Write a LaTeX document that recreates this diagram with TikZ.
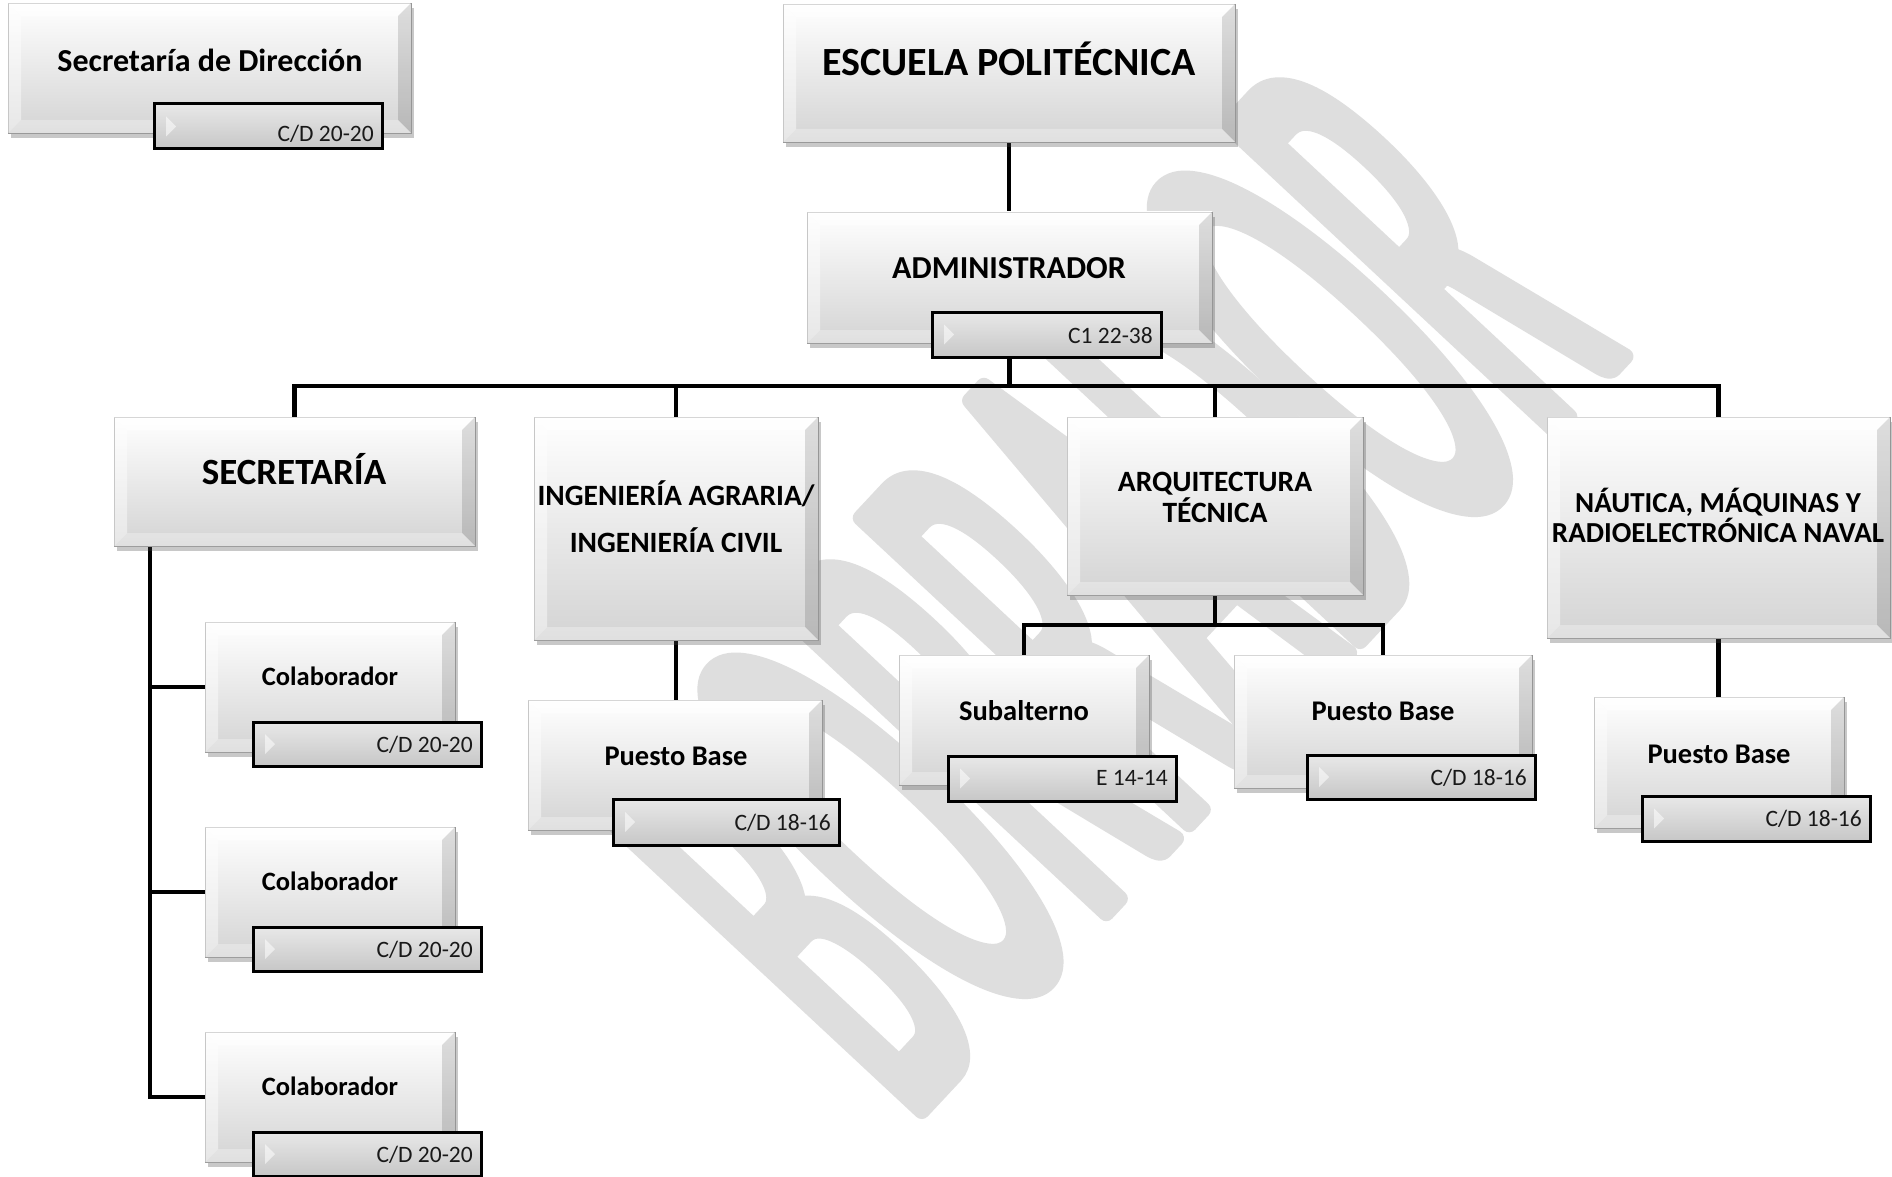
\documentclass[tikz,border=0pt]{standalone}
\usepackage{fontspec}
\setmainfont{Carlito}
\newfontfamily\wmfont{Carlito}[FakeStretch=0.32]
\usetikzlibrary{shadows}
\pgfdeclarelayer{wmark}
\pgfdeclarelayer{links}
\pgfsetlayers{wmark,links,main}
\newcommand\fsz[1]{\fontsize{#1}{#1}\selectfont}
\tikzset{
  obox/.style={rectangle, inner sep=0pt, outer sep=0pt, draw=black!40, line width=0.8pt,
    top color=white, bottom color=black!17,
    drop shadow={shadow xshift=3pt, shadow yshift=-5pt, opacity=0.3, fill=black!70}},
  cdbox/.style={rectangle, inner sep=0pt, outer sep=0pt, draw=black, line width=3pt,
    top color=black!9, bottom color=black!22},
  conn/.style={line width=4.5pt, black},
  ttl/.style={inner sep=0pt, anchor=base, text=black},
  cdtxt/.style={inner sep=0pt, anchor=base east, font=\fsz{23.5}, text=black!90},
}
% box: name, x1, y1, x2, y2
\newcommand\orgbox[5]{%
  \node[obox, minimum width={(#4)-(#2)}, minimum height={(#5)-(#3)}] (#1)
    at ({((#2)+(#4))/2},{((#3)+(#5))/2}) {};}
% bevel faces of a box
\newcommand\bevel[1]{%
  \fill[white,opacity=.6] (#1.north west) -- (#1.north east) -- ([xshift=-13pt,yshift=-13pt]#1.north east) -- ([xshift=13pt,yshift=-13pt]#1.north west) -- cycle;
  \fill[white,opacity=.45] (#1.north west) -- ([xshift=13pt,yshift=-13pt]#1.north west) -- ([xshift=13pt,yshift=13pt]#1.south west) -- (#1.south west) -- cycle;
  \fill[black,opacity=.13] (#1.north east) -- (#1.south east) -- ([xshift=-13pt,yshift=13pt]#1.south east) -- ([xshift=-13pt,yshift=-13pt]#1.north east) -- cycle;
  \fill[white,opacity=.3] (#1.south west) -- ([xshift=13pt,yshift=13pt]#1.south west) -- ([xshift=-13pt,yshift=13pt]#1.south east) -- (#1.south east) -- cycle;}
% grade label: name, x1, y1, x2, y2, baseline, text
\newcommand\cdlabel[7]{%
  \node[cdbox, minimum width={(#4)-(#2)}, minimum height={(#5)-(#3)}] (#1)
    at ({((#2)+(#4))/2},{((#3)+(#5))/2}) {};
  \fill[white,opacity=.55] ([xshift=12pt,yshift=10pt]#1.west) -- ([xshift=22pt]#1.west) -- ([xshift=12pt,yshift=-10pt]#1.west) -- cycle;
  \node[cdtxt] (#1-t) at ({(#4)-8},{#6}) {#7};}

\begin{document}
\begin{tikzpicture}[x=1pt,y=-1pt]
\useasboundingbox (0,0) rectangle (1892,1177);
\begin{pgfonlayer}{wmark}
  \fill[white] (0,0) rectangle (1892,1177);
  \node[rotate=47, inner sep=0pt] (wm) at (1105,585)
    {\wmfont\fsz{700}\special{pdf:literal direct q 2 Tr 16 w 1 j 0.87 G 0.87 g}BORRADOR\special{pdf:literal direct Q}};
\end{pgfonlayer}

% boxes
\orgbox{sd}{8}{3}{411}{133}
\orgbox{esc}{783}{4}{1235}{142}
\orgbox{adm}{807}{212}{1212}{343}
\orgbox{sec}{114}{417}{475}{546}
\orgbox{ing}{534}{417}{818}{640}
\orgbox{arq}{1067}{417}{1363}{595}
\orgbox{nau}{1547}{417}{1890}{638}
\orgbox{col1}{205}{622}{455}{752}
\orgbox{col2}{205}{827}{455}{957}
\orgbox{col3}{205}{1032}{455}{1162}
\orgbox{ingpb}{528}{700}{822}{830}
\orgbox{subal}{899}{655}{1149}{785}
\orgbox{arqpb}{1234}{655}{1532}{788}
\orgbox{naupb}{1594}{697}{1844}{828}
\foreach \n in {sd,esc,adm,sec,ing,arq,nau,col1,col2,col3,ingpb,subal,arqpb,naupb}{\bevel{\n}}

% grade labels
\cdlabel{sd-cd}{154}{104}{382}{149}{142}{C/D 20-20}
\cdlabel{adm-cd}{932}{312}{1161}{357}{343}{C1 22-38}
\cdlabel{col1-cd}{253}{722}{481}{766}{752}{C/D 20-20}
\cdlabel{col2-cd}{253}{927}{481}{971}{957}{C/D 20-20}
\cdlabel{col3-cd}{253}{1132}{481}{1176}{1162}{C/D 20-20}
\cdlabel{ingpb-cd}{613}{799}{839}{845}{830}{C/D 18-16}
\cdlabel{subal-cd}{948}{756}{1176}{801}{785}{E 14-14}
\cdlabel{arqpb-cd}{1307}{755}{1535}{799}{785}{C/D 18-16}
\cdlabel{naupb-cd}{1642}{796}{1870}{841}{826}{C/D 18-16}

% titles
\node[ttl, font=\bfseries\fsz{32}] (sd-t) at (210,72) {Secretaría de Dirección};
\node[ttl, font=\bfseries\fsz{40}] (esc-t) at (1009,76) {ESCUELA POLITÉCNICA};
\node[ttl, font=\bfseries\fsz{32}] (adm-t) at (1009,278) {ADMINISTRADOR};
\node[ttl, font=\bfseries\fsz{37}] (sec-t) at (294,484) {SECRETARÍA};
\node[ttl, font=\bfseries\fsz{29.5}] (ing-t1) at (676,505) {INGENIERÍA AGRARIA/};
\node[ttl, font=\bfseries\fsz{29.5}] (ing-t2) at (676,552) {INGENIERÍA CIVIL};
\node[ttl, font=\bfseries\fsz{29.5}] (arq-t1) at (1215,491) {ARQUITECTURA};
\node[ttl, font=\bfseries\fsz{29.5}] (arq-t2) at (1215,522) {TÉCNICA};
\node[ttl, font=\bfseries\fsz{29}] (nau-t1) at (1718,512) {NÁUTICA, MÁQUINAS Y};
\node[ttl, font=\bfseries\fsz{29}] (nau-t2) at (1718,542) {RADIOELECTRÓNICA NAVAL};
\node[ttl, font=\bfseries\fsz{26.5}] (col1-t) at (330,685) {Colaborador};
\node[ttl, font=\bfseries\fsz{26.5}] (col2-t) at (330,890) {Colaborador};
\node[ttl, font=\bfseries\fsz{26.5}] (col3-t) at (330,1095) {Colaborador};
\node[ttl, font=\bfseries\fsz{28.5}] (ingpb-t) at (676,765) {Puesto Base};
\node[ttl, font=\bfseries\fsz{28.5}] (subal-t) at (1024,720) {Subalterno};
\node[ttl, font=\bfseries\fsz{28.5}] (arqpb-t) at (1383,720) {Puesto Base};
\node[ttl, font=\bfseries\fsz{28.5}] (naupb-t) at (1719,763) {Puesto Base};

% connectors
\begin{pgfonlayer}{links}
  \coordinate (bus) at (1009,386);
  \coordinate (arqbus) at (1215,625);
  \draw[conn] (esc.south) -- (esc.south |- adm.north);
  \draw[conn] (adm.south) -- (adm.south |- bus);
  \draw[conn] (sec.north) |- (bus);
  \draw[conn] (ing.north) |- (bus);
  \draw[conn] (arq.north) |- (bus);
  \draw[conn] (nau.north) |- (bus);
  \draw[conn] ([xshift=36pt]sec.south west) |- (col1.west);
  \draw[conn] ([xshift=36pt]sec.south west) |- (col2.west);
  \draw[conn] ([xshift=36pt]sec.south west) |- (col3.west);
  \draw[conn] (ing.south) -- (ing.south |- ingpb.north);
  \draw[conn] (arq.south) -- (arqbus);
  \draw[conn] (subal.north) |- (arqbus);
  \draw[conn] (arqpb.north) |- (arqbus);
  \draw[conn] (nau.south) -- (nau.south |- naupb.north);
\end{pgfonlayer}
\end{tikzpicture}
\end{document}
